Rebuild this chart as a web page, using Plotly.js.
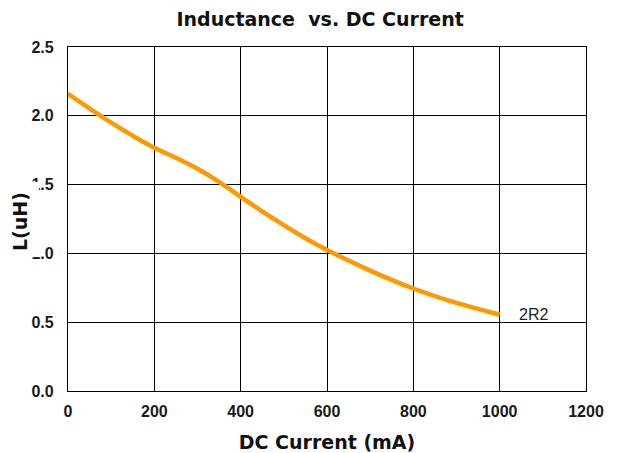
<!DOCTYPE html>
<html>
<head>
<meta charset="utf-8">
<script src="https://cdn.plot.ly/plotly-3.0.1.min.js"></script>
<style>html,body{margin:0;padding:0;background:#fff;}#chart{width:618px;height:453px;}</style>
</head>
<body>
<div id="chart"></div>
<script>
const currentMA = [0, 100, 200, 250, 300, 350, 400, 450, 500, 550, 600, 700, 800, 900, 1000];
const inductanceUH = [2.16, 1.95, 1.767, 1.695, 1.615, 1.52, 1.412, 1.305, 1.205, 1.11, 1.025, 0.875, 0.745, 0.64, 0.555];
const seriesName = "2R2";
const xTicks = [0, 200, 400, 600, 800, 1000, 1200];
const yTicks = [0.0, 0.5, 1.0, 1.5, 2.0, 2.5];

const trace = {
  x: currentMA, y: inductanceUH, name: seriesName,
  type: "scatter", mode: "lines",
  line: {color: "#FF9900", width: 4.5, shape: "spline", smoothing: 0.7},
  hoverinfo: "x+y"
};

const tickFont = {family: "Arial, 'Liberation Sans', sans-serif", size: 16, weight: "bold", color: "#1a1a1a"};
const titleFont = {family: "'DejaVu Sans', sans-serif", size: 19, weight: "bold", color: "#111"};
const layout = {
  width: 618, height: 453,
  margin: {l: 68, r: 32, t: 47, b: 62},
  paper_bgcolor: "#fff", plot_bgcolor: "#fff",
  showlegend: false,
  title: {text: "Inductance  vs. DC Current", x: 0.518, xanchor: "center", y: 0.958, yanchor: "middle", font: titleFont},
  xaxis: {
    range: [0, 1200], tickvals: xTicks, ticktext: xTicks.map(String),
    showgrid: true, gridcolor: "#000", gridwidth: 1.2,
    showline: true, linecolor: "#000", linewidth: 1.2, mirror: true,
    zeroline: false, ticks: "", tickfont: tickFont, ticklabelstandoff: 6,
    title: {text: "DC Current (mA)", font: titleFont}
  },
  yaxis: {
    range: [0, 2.5], tickvals: yTicks, ticktext: yTicks.map(v => v.toFixed(1)),
    showgrid: true, gridcolor: "#000", gridwidth: 1.2,
    showline: true, linecolor: "#000", linewidth: 1.2, mirror: true,
    zeroline: false, ticks: "", tickfont: tickFont, ticklabelstandoff: 10
  },
  shapes: [
    {type: "rect", xref: "paper", yref: "paper", x0: -0.112, x1: -0.056, y0: 0.3895, y1: 0.6076,
     fillcolor: "#fff", line: {width: 0}, layer: "above"}
  ],
  annotations: [
    {text: "L(uH)", xref: "paper", yref: "paper", x: -0.0927, y: 0.494, xanchor: "center", yanchor: "middle",
     textangle: -90, showarrow: false, font: titleFont},
    {text: seriesName, x: currentMA[currentMA.length - 1], y: inductanceUH[inductanceUH.length - 1],
     xref: "x", yref: "y", xanchor: "left", yanchor: "middle", xshift: 17, showarrow: false,
     font: {family: "Arial, 'Liberation Sans', sans-serif", size: 16, color: "#222"}}
  ]
};

Plotly.newPlot("chart", [trace], layout, {displayModeBar: false});
</script>
</body>
</html>
